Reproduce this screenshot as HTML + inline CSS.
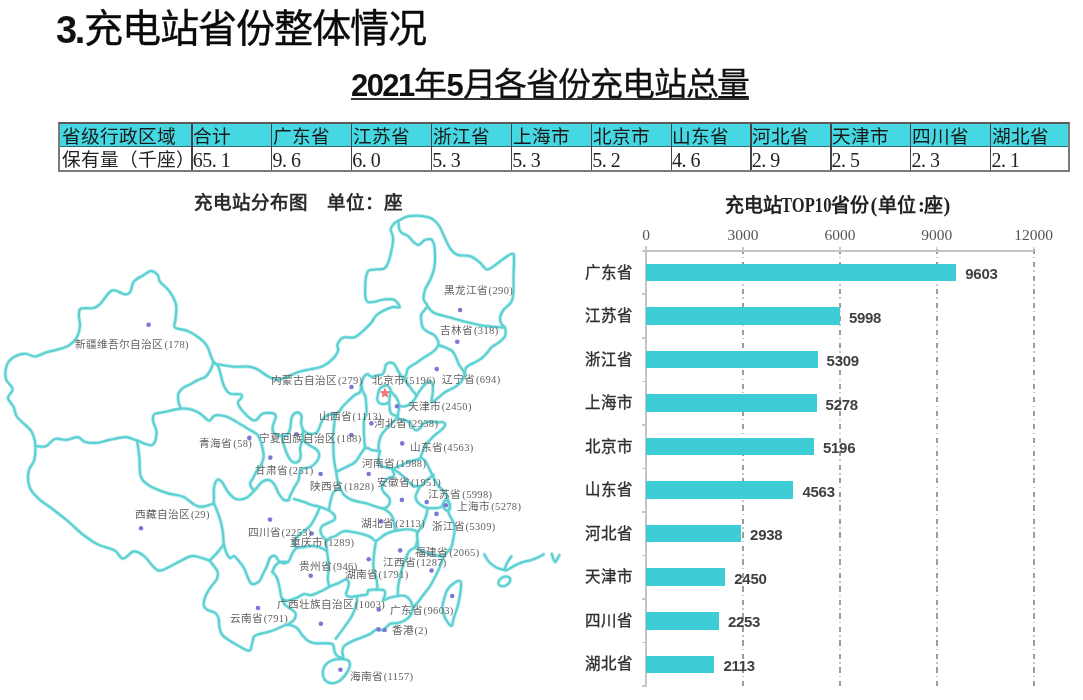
<!DOCTYPE html>
<html lang="zh-CN"><head><meta charset="utf-8"><style>
*{margin:0;padding:0;box-sizing:border-box}
html,body{width:1083px;height:700px;overflow:hidden;background:#fff}
body{position:relative;font-family:"Liberation Sans",sans-serif;color:#000;-webkit-font-smoothing:antialiased}
.abs{position:absolute;white-space:nowrap}
.t1d{font-weight:bold;font-size:38px;letter-spacing:-2.5px;line-height:50px;color:#111}
.t1c{font-weight:400;font-size:39.2px;letter-spacing:-0.9px;line-height:50px;color:#0a0a0a;-webkit-text-stroke:0.35px #0a0a0a}
.t2d{font-weight:bold;font-size:31px;line-height:40px;letter-spacing:-1.6px;color:#111}
.t2c{font-weight:normal;font-size:33px;letter-spacing:-1.14px;line-height:40px;color:#111;-webkit-text-stroke:0.3px #111}
#t2u{position:absolute;left:351px;top:97.5px;width:398px;height:2px;background:#333}
#tbl{position:absolute;left:58px;top:122px;width:1012px;height:50px;border:2px solid #7a7a7a;border-top-color:#5a5a5a;background:#fff}
#tbl .hd{position:absolute;left:0;top:0;width:1008px;height:23px;background:#45d8e2;border-bottom:1.5px solid #2f6f74}
#tbl .vl{position:absolute;top:0;width:1.5px;height:46px;background:#444}
.th,.td{position:absolute;font-family:"Liberation Serif",serif;font-size:18.7px;line-height:22px;white-space:nowrap;color:#1a1a1a}
.th{top:2px}
.td{top:25px;color:#222}
.td.num{font-size:20px;letter-spacing:-0.5px}
.td .dot{display:inline-block;width:9px}
#mt{position:absolute;left:193.5px;top:190.5px;font-family:"Liberation Serif",serif;font-weight:bold;font-size:18.5px;line-height:24px;color:#2b2b2b;white-space:nowrap}
svg{position:absolute;left:0;top:0}
.lb{position:absolute;font-family:"Liberation Serif",serif;font-size:10.7px;line-height:14px;color:#626262;white-space:nowrap}
.lb .n{letter-spacing:0.35px;font-size:10.5px;margin-left:1px}
.ct{position:absolute;top:193.5px;font-family:"Liberation Serif",serif;font-weight:bold;font-size:19px;line-height:24px;color:#222;white-space:nowrap}
.ct.lat{font-size:20.5px;top:192.5px}
.ct.sx{transform:scaleX(0.81);transform-origin:0 0}
.bar{position:absolute;background:#3ecdd6}
.cat{position:absolute;font-family:"Liberation Serif",serif;font-size:15.5px;line-height:18px;color:#303030;-webkit-text-stroke:0.35px #303030;white-space:nowrap}
.val{position:absolute;font-family:"Liberation Sans",sans-serif;font-weight:bold;font-size:15px;line-height:18px;letter-spacing:-0.3px;color:#404040;white-space:nowrap}
.ax{position:absolute;width:80px;text-align:center;font-family:"Liberation Serif",serif;font-size:15.5px;line-height:14px;color:#555}
.tk{position:absolute;background:#c8c8c8}
.grid{position:absolute;top:249.1px;width:1.5px;height:437.5px;background:repeating-linear-gradient(to bottom,#9c9c9c 0 5px,transparent 5px 8px,#c4c4c4 8px 9.5px,transparent 9.5px 13.5px)}
#yax{position:absolute;left:644.8px;top:246.3px;width:2px;height:440px;background:#c4c4c4}
#xax{position:absolute;left:641.5px;top:249.8px;width:392.5px;height:2px;background:#c4c4c4}
#root{position:absolute;left:0;top:0;width:1083px;height:700px;will-change:transform}
</style></head><body><div id="root">
<div class="abs t1d" style="left:56px;top:5px">3.</div>
<div class="abs t1c" style="left:83.5px;top:4px">充电站省份整体情况</div>
<div class="abs t2d" style="left:351px;top:65.5px">2021</div>
<div class="abs t2c" style="left:414px;top:64.5px">年</div>
<div class="abs t2d" style="left:446.5px;top:65.5px">5</div>
<div class="abs t2c" style="left:462.5px;top:64.5px">月各省份充电站总量</div>
<div id="t2u"></div>
<div id="tbl"><div class="hd"></div>
<div class="th" style="left:1.5px">省级行政区域</div>
<div class="td" style="left:1.5px">保有量（千座）</div>
<div class="th" style="left:133.2px">合计</div>
<div class="td num" style="left:132.8px">65<span class="dot">.</span>1</div>
<div class="th" style="left:212.8px">广东省</div>
<div class="td num" style="left:212.4px">9<span class="dot">.</span>6</div>
<div class="th" style="left:292.7px">江苏省</div>
<div class="td num" style="left:292.3px">6<span class="dot">.</span>0</div>
<div class="th" style="left:372.7px">浙江省</div>
<div class="td num" style="left:372.3px">5<span class="dot">.</span>3</div>
<div class="th" style="left:452.7px">上海市</div>
<div class="td num" style="left:452.3px">5<span class="dot">.</span>3</div>
<div class="th" style="left:532.6px">北京市</div>
<div class="td num" style="left:532.2px">5<span class="dot">.</span>2</div>
<div class="th" style="left:612.4px">山东省</div>
<div class="td num" style="left:612.0px">4<span class="dot">.</span>6</div>
<div class="th" style="left:692.1px">河北省</div>
<div class="td num" style="left:691.7px">2<span class="dot">.</span>9</div>
<div class="th" style="left:771.9px">天津市</div>
<div class="td num" style="left:771.5px">2<span class="dot">.</span>5</div>
<div class="th" style="left:851.8px">四川省</div>
<div class="td num" style="left:851.4px">2<span class="dot">.</span>3</div>
<div class="th" style="left:931.8px">湖北省</div>
<div class="td num" style="left:931.4px">2<span class="dot">.</span>1</div>
<div class="vl" style="left:131.2px"></div>
<div class="vl" style="left:210.9px"></div>
<div class="vl" style="left:290.8px"></div>
<div class="vl" style="left:370.8px"></div>
<div class="vl" style="left:450.8px"></div>
<div class="vl" style="left:530.6px"></div>
<div class="vl" style="left:610.5px"></div>
<div class="vl" style="left:690.1px"></div>
<div class="vl" style="left:770.0px"></div>
<div class="vl" style="left:849.9px"></div>
<div class="vl" style="left:929.9px"></div>
</div>
<div id="mt">充电站分布图　单位：座</div>
<svg width="1083" height="700" viewBox="0 0 1083 700">
<g fill="none" stroke="#bdeced" stroke-width="3.8" stroke-linejoin="round" stroke-linecap="round">
<path d="M209.6 560.6C206.8 559.8 197.8 555.9 192.9 556.0C188.0 556.1 185.2 558.8 180.0 561.2C174.8 563.6 166.3 569.1 162.0 570.2C157.7 571.3 157.3 570.0 154.3 567.6C151.3 565.2 147.4 558.7 144.0 556.0C140.6 553.3 137.3 551.0 133.8 551.4C130.3 551.8 126.2 558.8 123.0 558.6C119.8 558.4 118.7 552.8 114.5 550.4C110.3 548.0 103.1 547.1 97.7 544.4C92.3 541.7 87.2 537.9 82.3 534.1C77.4 530.3 73.5 525.9 68.6 521.7C63.6 517.5 57.5 512.9 52.6 509.1C47.7 505.3 42.7 502.5 38.9 498.9C35.1 495.3 31.4 492.0 29.7 487.4C28.0 482.8 27.8 476.0 28.6 471.4C29.4 466.8 33.2 464.2 34.3 460.0C35.4 455.8 35.5 450.0 35.4 446.0C35.3 442.0 34.5 438.8 33.5 436.0C32.5 433.2 32.4 432.3 29.7 429.1C27.0 425.9 19.8 420.7 17.1 417.0C14.4 413.3 15.2 410.2 13.7 407.0C12.2 403.8 8.2 401.0 8.0 398.0C7.8 395.0 12.9 392.2 12.6 389.0C12.3 385.8 7.0 383.0 6.0 379.0C5.0 375.0 5.6 368.6 6.9 365.0C8.2 361.4 10.7 359.0 13.7 357.1C16.7 355.2 21.5 353.8 25.1 353.7C28.7 353.6 32.0 356.7 35.4 356.5C38.8 356.3 41.7 353.8 45.7 352.6C49.7 351.4 55.6 350.2 59.4 349.1C63.2 348.0 65.7 347.6 68.6 345.7C71.5 343.8 74.7 340.9 76.6 337.7C78.5 334.5 79.6 330.1 80.0 326.3C80.4 322.5 78.7 317.9 78.9 314.9C79.1 311.9 78.6 309.6 81.1 308.5C83.6 307.4 90.5 308.9 93.7 308.0C97.0 307.1 97.5 306.3 100.6 303.4C103.6 300.5 108.0 291.9 112.0 290.4C116.0 288.9 121.5 294.0 124.6 294.3C127.6 294.6 128.8 294.1 130.3 292.0C131.8 289.9 131.4 284.6 133.7 281.7C136.0 278.8 141.1 276.7 144.0 274.9C146.9 273.1 148.6 271.0 150.9 271.0C153.2 271.0 156.2 273.1 157.7 274.9C159.2 276.7 158.1 279.0 160.0 281.7C161.9 284.4 166.4 287.1 169.1 290.9C171.8 294.7 174.9 299.9 176.0 304.6C177.1 309.4 175.7 315.6 175.5 319.4C175.3 323.2 172.9 325.5 174.9 327.4C176.9 329.3 183.4 329.2 187.4 330.9C191.4 332.6 195.7 335.2 198.9 337.7C202.2 340.2 204.5 341.6 206.9 345.7C209.3 349.8 211.4 358.9 213.5 362.0C215.6 365.1 216.0 363.7 219.4 364.5C222.8 365.3 229.1 366.3 234.0 366.7C238.9 367.1 245.0 366.1 248.9 366.6C252.8 367.1 254.8 368.0 257.7 369.5C260.6 371.0 263.9 373.9 266.6 375.5C269.3 377.1 271.5 378.5 274.0 379.1C276.5 379.7 278.9 379.6 281.4 379.1C283.9 378.6 285.9 377.4 288.8 376.2C291.8 375.0 295.7 372.9 299.1 371.8C302.5 370.7 305.9 370.2 309.4 369.5C312.8 368.8 316.8 368.3 319.8 367.3C322.8 366.3 324.8 365.3 327.2 363.6C329.6 361.9 332.7 359.2 334.5 357.0C336.3 354.8 337.7 352.4 338.2 350.3C338.7 348.2 336.6 346.5 337.5 344.4C338.4 342.3 340.3 338.8 343.3 337.5C346.3 336.2 351.1 339.0 355.5 336.8C359.9 334.6 366.4 327.9 370.0 324.2C373.6 320.5 373.7 317.3 377.3 314.5C380.9 311.7 388.2 308.4 391.9 307.2C395.6 306.0 399.3 308.4 399.7 307.2C400.1 306.0 396.8 301.2 394.3 299.9C391.8 298.6 389.1 299.1 384.6 299.4C380.2 299.7 370.8 303.8 367.6 301.8C364.4 299.9 365.2 292.7 365.2 287.7C365.2 282.7 366.0 274.9 367.6 271.9C369.2 268.9 372.1 270.1 374.9 269.5C377.7 268.9 382.2 270.1 384.6 268.3C387.0 266.5 388.1 263.5 389.5 258.6C390.9 253.7 392.9 244.0 393.1 239.1C393.3 234.2 390.5 232.0 390.7 229.4C390.9 226.8 393.1 224.8 394.3 223.4C395.6 222.0 395.7 222.1 398.2 220.9C400.7 219.7 404.0 216.7 409.1 216.1C414.2 215.5 423.7 215.9 428.6 217.3C433.5 218.7 435.7 221.4 438.3 224.6C440.9 227.8 442.3 232.7 444.3 236.7C446.3 240.7 448.2 245.8 450.4 248.8C452.6 251.8 454.5 253.7 457.7 254.9C460.9 256.1 466.2 254.9 469.8 256.1C473.4 257.3 476.7 260.0 479.5 262.2C482.3 264.4 484.4 268.9 486.8 269.5C489.2 270.1 491.3 267.6 494.1 265.8C496.9 264.0 500.8 260.6 503.8 258.6C506.8 256.6 510.6 253.7 512.3 253.7C514.0 253.7 513.8 254.6 514.0 258.6C514.2 262.7 513.6 272.4 513.5 278.0C513.4 283.6 513.9 288.4 513.5 292.5C513.1 296.6 512.7 299.5 511.1 302.3C509.5 305.1 505.6 307.1 503.8 309.5C502.0 311.9 500.6 314.4 500.2 316.8C499.8 319.2 500.6 322.3 501.4 324.1C502.2 325.9 504.4 325.7 505.0 327.7C505.6 329.7 506.0 333.8 505.0 336.2C504.0 338.6 501.2 340.5 499.0 342.3C496.8 344.1 493.7 345.4 491.7 347.2C489.7 349.0 488.4 351.4 486.8 353.2C485.2 355.0 483.9 356.6 481.9 358.1C479.9 359.6 476.9 361.2 475.0 362.3C473.1 363.4 471.9 363.7 470.4 364.6C468.9 365.6 466.8 366.3 465.9 368.0C464.9 369.7 465.5 372.6 464.7 374.9C463.9 377.2 463.0 379.6 461.3 381.7C459.6 383.8 457.1 385.7 454.4 387.4C451.7 389.1 448.0 390.3 445.3 392.0C442.6 393.7 440.6 396.0 438.4 397.7C436.2 399.4 433.1 401.9 432.0 402.3C430.9 402.7 431.5 401.5 431.6 400.0C431.7 398.5 432.5 395.6 432.7 393.1C432.9 390.6 433.1 387.0 432.7 385.1C432.3 383.2 431.5 382.0 430.4 381.7C429.3 381.4 427.4 382.2 425.9 383.4C424.4 384.5 422.8 386.6 421.3 388.6C419.8 390.6 417.8 393.6 416.7 395.4C415.6 397.2 415.7 398.0 414.6 399.4C413.5 400.8 411.6 402.7 410.0 403.9C408.4 405.1 406.4 406.0 404.7 406.4C403.0 406.8 400.6 405.7 399.6 406.4C398.6 407.1 399.0 409.4 398.7 410.7C398.4 412.0 398.0 412.9 398.0 414.3C398.0 415.7 397.6 417.9 398.6 418.9C399.7 419.8 402.4 419.4 404.3 420.0C406.2 420.6 408.7 421.2 410.0 422.3C411.3 423.4 411.4 425.6 412.3 426.9C413.2 428.2 414.4 430.1 415.7 430.3C417.0 430.5 419.0 429.1 420.3 428.0C421.6 426.9 422.2 424.4 423.7 423.4C425.2 422.3 427.3 421.9 429.4 421.7C431.5 421.5 434.0 422.2 436.3 422.3C438.6 422.4 441.7 421.7 443.1 422.3C444.5 422.9 445.3 424.4 444.9 425.7C444.5 427.0 442.5 428.8 440.9 430.3C439.3 431.8 437.0 433.2 435.1 434.9C433.2 436.6 431.1 438.7 429.4 440.6C427.7 442.5 426.0 444.4 424.9 446.3C423.8 448.2 423.2 450.2 422.6 452.0C422.0 453.8 420.6 455.6 421.0 457.0C421.4 458.4 423.8 458.9 425.1 460.6C426.4 462.3 427.5 465.1 428.6 467.4C429.8 469.7 430.9 472.0 432.0 474.3C433.1 476.6 434.2 479.1 435.4 481.1C436.5 483.1 437.5 484.6 438.9 486.3C440.3 488.0 442.6 489.8 444.0 491.4C445.4 493.0 446.3 494.6 447.0 496.1C447.7 497.7 447.7 499.6 448.1 500.7C448.5 501.8 449.0 501.9 449.3 503.0C449.6 504.1 450.1 506.3 449.9 507.6C449.7 508.9 448.0 509.5 448.1 511.0C448.2 512.5 449.4 514.6 450.4 516.7C451.4 518.8 453.2 521.2 453.9 523.6C454.6 526.0 454.6 528.3 454.5 531.0C454.4 533.7 453.6 537.1 453.1 539.8C452.6 542.5 452.4 545.0 451.3 547.2C450.2 549.4 447.8 551.2 446.6 552.8C445.4 554.3 444.8 554.6 443.9 556.5C443.0 558.4 442.0 561.6 441.0 564.0C440.0 566.4 439.2 568.5 438.0 571.0C436.8 573.5 435.4 576.3 434.0 579.0C432.6 581.7 431.2 584.5 429.5 587.0C427.8 589.5 425.9 591.6 424.0 594.0C422.1 596.4 420.3 599.2 418.4 601.6C416.5 604.0 414.0 605.9 412.8 608.1C411.6 610.3 412.2 612.6 411.0 614.6C409.8 616.6 407.6 618.7 405.4 620.1C403.2 621.5 400.5 622.3 398.0 622.9C395.5 623.5 392.5 623.0 390.5 623.8C388.5 624.6 387.1 626.4 385.9 627.5C384.7 628.6 384.7 630.0 383.1 630.3C381.6 630.6 378.8 628.8 376.6 629.4C374.4 630.0 372.7 632.6 370.1 634.0C367.5 635.4 363.9 636.5 360.8 637.8C357.7 639.0 354.4 640.1 351.6 641.5C348.8 642.9 345.7 644.4 344.1 646.1C342.6 647.8 342.5 649.9 342.3 651.7C342.1 653.6 344.0 656.4 343.2 657.2C342.4 658.0 339.0 657.2 337.6 656.3C336.2 655.4 335.4 653.7 334.6 651.7C333.8 649.7 334.2 645.7 332.8 644.3C331.4 642.9 329.2 643.5 326.3 643.3C323.4 643.1 318.2 643.8 315.1 643.3C312.0 642.8 309.9 642.0 307.7 640.6C305.5 639.2 304.0 637.2 302.1 635.0C300.2 632.8 299.0 629.3 296.5 627.6C294.0 625.9 290.1 624.8 287.3 624.8C284.5 624.8 282.6 626.5 279.8 627.6C277.0 628.7 274.0 630.2 270.6 631.3C267.2 632.4 262.2 633.2 259.4 634.1C256.6 635.0 255.0 635.1 253.8 636.8C252.6 638.5 252.8 642.0 252.0 644.3C251.2 646.6 251.4 650.5 249.2 650.8C247.0 651.1 242.2 647.8 239.0 646.1C235.8 644.4 232.5 642.5 229.7 640.6C226.9 638.8 224.0 637.2 222.3 635.0C220.6 632.8 220.1 630.4 219.5 627.6C218.9 624.8 219.4 620.8 218.6 618.3C217.8 615.8 216.8 614.1 214.9 612.7C213.0 611.3 209.3 611.1 207.4 609.9C205.5 608.7 204.0 607.6 203.7 605.3C203.4 603.0 204.4 599.1 205.6 596.0C206.8 592.9 209.2 589.5 211.1 586.7C212.9 583.9 215.6 581.8 216.7 579.3C217.8 576.8 218.6 574.5 217.4 571.4C216.2 568.3 210.9 562.4 209.6 560.6"/>
<path d="M35.4 446.0C37.1 446.1 42.5 447.5 45.7 446.3C49.0 445.1 51.5 440.1 54.9 439.0C58.3 437.9 62.5 440.2 66.3 439.9C70.1 439.6 74.7 436.8 77.7 437.1C80.8 437.4 81.5 440.7 84.6 441.7C87.6 442.7 91.8 443.2 96.0 442.9C100.2 442.6 104.8 440.9 109.7 439.9C114.7 438.9 121.1 437.0 125.7 437.1C130.3 437.2 132.7 439.3 137.1 440.6C141.5 441.9 148.8 446.4 152.0 445.1C155.2 443.8 156.4 436.6 156.6 432.6C156.8 428.6 153.5 424.2 153.1 421.1C152.7 418.1 152.4 415.8 154.3 414.3C156.2 412.8 160.2 412.9 164.6 412.0C169.0 411.1 176.0 409.0 180.6 408.6C185.2 408.2 188.6 408.8 192.0 409.7C195.4 410.6 198.2 412.5 201.1 414.3C203.9 416.1 206.8 420.5 209.1 420.7C211.4 420.9 212.0 416.1 214.9 415.4C217.8 414.7 222.8 415.6 226.3 416.6C229.8 417.6 232.9 419.9 235.7 421.4C238.5 422.9 240.5 424.3 242.9 425.7C245.3 427.1 247.6 428.6 250.0 430.0C252.4 431.4 255.3 432.4 257.1 434.3C258.9 436.2 259.7 438.8 260.7 441.4C261.7 444.0 262.4 447.4 262.9 450.0C263.4 452.6 264.0 454.5 263.6 457.1C263.2 459.7 261.9 463.3 260.7 465.7C259.5 468.1 257.7 469.2 256.4 471.4C255.1 473.5 254.0 476.5 252.9 478.6C251.8 480.7 249.8 481.9 250.0 484.0C250.2 486.1 253.3 489.8 254.0 491.0"/>
<path d="M180.6 408.6C180.2 407.3 178.7 403.1 178.3 400.6C177.9 398.1 177.5 395.8 178.3 393.7C179.1 391.6 181.1 389.5 183.0 388.0C184.9 386.5 187.2 385.9 189.7 384.6C192.2 383.3 195.3 381.3 198.0 380.0C200.7 378.7 203.5 378.4 205.7 376.6C207.9 374.8 209.7 371.4 211.0 369.0C212.3 366.6 213.1 363.2 213.5 362.0"/>
<path d="M213.5 362.0C214.2 362.7 216.9 364.3 218.0 366.0C219.1 367.7 219.0 368.7 220.0 372.0C221.0 375.3 222.3 382.4 224.0 386.0C225.7 389.6 227.2 392.2 230.0 393.6C232.8 395.0 238.8 393.6 240.7 394.3C242.6 395.0 241.9 396.5 241.4 397.9C240.9 399.3 237.7 400.6 237.9 402.9C238.2 405.1 240.7 408.7 242.9 411.4C245.2 414.1 249.2 417.9 251.4 419.3C253.7 420.7 254.7 420.8 256.4 420.0C258.1 419.2 259.6 415.5 261.4 414.3C263.2 413.1 265.0 413.0 267.1 412.9C269.2 412.8 272.9 412.9 274.3 413.6C275.7 414.3 275.9 415.1 275.7 417.1C275.5 419.1 273.4 423.3 272.9 425.7C272.4 428.1 272.2 429.8 272.9 431.4C273.6 432.9 275.6 434.3 277.1 435.0C278.6 435.7 280.4 435.7 282.1 435.7C283.8 435.7 285.8 436.1 287.1 435.0C288.4 433.9 289.2 432.2 290.0 429.3C290.8 426.4 290.8 420.0 291.7 417.3C292.6 414.6 293.8 413.7 295.1 413.0C296.4 412.3 298.3 412.4 299.4 413.0C300.5 413.6 301.3 414.7 301.6 416.4C301.9 418.1 300.9 421.1 301.1 423.3C301.3 425.5 302.0 427.7 302.9 429.3C303.8 430.9 304.9 431.9 306.3 432.7C307.7 433.5 309.7 434.0 311.4 434.0C313.1 434.0 315.3 433.6 316.6 432.7C317.9 431.8 318.2 430.2 319.1 428.4C320.0 426.5 320.8 423.5 321.7 421.6C322.6 419.8 323.1 418.5 324.3 417.3C325.5 416.1 326.9 415.4 328.6 414.7C330.3 414.0 332.9 413.9 334.6 413.4C336.3 412.9 337.5 412.9 338.9 411.7C340.3 410.5 341.2 408.2 343.1 406.1C345.0 404.0 348.0 401.2 350.0 399.3C352.0 397.4 353.5 395.9 355.2 394.7C356.9 393.5 359.1 393.5 360.1 391.9C361.1 390.3 360.8 387.4 361.4 385.0C362.0 382.6 362.7 379.1 363.6 377.3C364.5 375.5 366.0 374.6 367.0 374.3C368.0 374.0 368.8 375.2 369.6 375.6C370.5 376.0 371.0 376.9 372.1 376.9C373.2 376.9 374.7 376.0 376.4 375.6C378.1 375.2 381.0 375.2 382.4 374.3C383.8 373.4 384.0 371.6 384.6 370.0C385.2 368.4 385.1 366.1 385.9 364.9C386.7 363.7 388.0 362.9 389.3 362.7C390.6 362.5 392.5 362.9 393.6 363.6C394.7 364.3 395.2 365.6 396.1 367.0C397.0 368.4 397.4 370.0 398.7 372.1C400.0 374.2 403.2 378.2 404.1 379.4"/>
<path d="M404.1 379.4C404.5 378.4 405.8 375.4 406.4 373.7C407.0 372.0 407.0 370.2 407.6 369.1C408.2 368.0 408.6 367.8 409.9 366.9C411.2 365.9 413.3 364.9 415.6 363.4C417.9 361.9 420.8 359.6 423.6 357.7C426.5 355.8 430.2 354.1 432.7 352.0C435.2 349.9 437.6 347.2 438.4 345.1C439.2 343.0 438.1 341.1 437.3 339.4C436.6 337.7 435.6 336.2 433.9 334.9C432.2 333.6 428.9 332.7 427.0 331.4C425.1 330.1 423.3 328.8 422.4 326.9C421.4 325.0 421.5 322.1 421.3 320.0C421.1 317.9 420.3 316.8 421.3 314.4C422.3 312.0 426.9 308.3 427.3 305.9C427.7 303.5 424.1 302.4 423.7 299.8C423.3 297.2 423.7 293.7 424.9 290.1C426.1 286.5 429.4 282.1 431.0 278.0C432.6 273.9 434.0 270.9 434.6 265.8C435.2 260.7 435.0 251.9 434.6 247.6C434.2 243.3 433.1 241.4 432.0 240.0C430.9 238.6 429.3 239.1 428.0 239.2C426.7 239.3 425.6 239.5 424.0 240.5C422.4 241.5 420.2 244.8 418.5 245.0C416.8 245.2 415.2 243.5 413.5 242.0C411.8 240.5 409.9 237.5 408.0 236.0C406.1 234.5 403.4 234.1 402.0 233.0C400.6 231.9 400.0 231.4 399.4 229.4C398.8 227.4 398.4 222.3 398.2 220.9"/>
<path d="M404.1 379.4C404.8 380.2 406.9 382.5 408.1 384.1C409.4 385.8 410.2 387.4 411.6 389.3C413.0 391.2 415.9 394.4 416.7 395.4"/>
<path d="M438.4 345.1C439.5 345.5 443.0 346.4 445.3 347.4C447.6 348.4 450.4 349.4 452.1 350.9C453.8 352.4 454.5 354.3 455.6 356.6C456.8 358.9 457.7 362.1 459.0 364.6C460.3 367.1 462.7 369.7 463.6 371.4C464.6 373.1 464.5 374.3 464.7 374.9"/>
<path d="M427.3 305.9C428.3 307.0 429.9 310.6 433.4 312.5C436.8 314.4 442.3 315.4 448.0 317.0C453.7 318.6 461.7 320.9 467.4 322.3C473.1 323.7 477.1 324.8 482.0 325.6C486.9 326.4 492.7 326.6 496.5 327.0C500.3 327.4 503.6 327.6 505.0 327.7"/>
<path d="M390.6 391.0C391.2 391.7 393.3 394.0 394.4 395.3C395.5 396.6 396.3 397.4 397.0 398.7C397.7 400.0 398.3 401.7 398.7 403.0C399.1 404.3 399.5 405.8 399.6 406.4"/>
<path d="M389.3 403.0C389.4 403.9 389.4 406.4 389.7 408.1C390.0 409.8 389.6 411.9 391.0 413.3C392.4 414.7 396.8 416.1 398.0 416.6"/>
<path d="M398.0 416.6C397.1 417.6 394.7 420.4 392.9 422.3C391.1 424.2 389.0 425.9 387.1 428.0C385.2 430.1 382.7 432.6 381.4 434.9C380.1 437.2 379.6 439.4 379.1 441.7C378.6 444.0 378.5 447.0 378.6 448.6C378.7 450.2 379.6 450.8 379.8 451.2"/>
<path d="M361.4 385.0C361.6 386.0 362.0 389.1 362.7 391.0C363.4 392.9 364.7 394.1 365.3 396.1C365.9 398.1 365.9 400.7 366.1 403.0C366.3 405.3 366.6 407.9 366.6 409.9C366.6 411.9 366.5 413.2 366.1 415.0C365.7 416.8 364.4 417.4 364.0 420.5C363.6 423.6 363.8 428.9 364.0 433.5C364.2 438.1 364.8 445.9 365.0 448.4"/>
<path d="M334.6 413.4C334.6 414.6 334.8 418.0 334.6 420.7C334.5 423.4 334.0 426.4 333.7 429.3C333.4 432.2 333.0 435.0 332.9 437.9C332.8 440.8 333.2 443.5 333.3 446.4C333.4 449.2 333.5 452.4 333.7 455.0C333.9 457.6 333.9 459.2 334.3 462.0C334.7 464.8 335.7 468.8 336.2 471.6C336.7 474.4 336.5 475.9 337.1 478.6C337.7 481.3 339.4 486.3 339.9 487.8"/>
<path d="M336.2 471.6C337.9 470.8 343.1 468.7 346.4 467.0C349.6 465.3 352.6 464.5 355.7 461.4C358.8 458.3 362.2 450.3 365.0 448.4C367.8 446.5 369.9 449.7 372.4 450.2C374.9 450.7 378.6 451.0 379.8 451.2"/>
<path d="M379.8 451.2C379.6 453.0 378.0 459.4 378.4 461.9C378.8 464.4 380.4 465.4 381.9 466.4C383.4 467.3 385.9 467.2 387.6 467.6C389.3 468.0 390.8 468.7 392.1 468.7C393.4 468.7 394.1 468.2 395.6 467.6C397.1 467.0 399.2 466.2 401.3 465.3C403.4 464.4 405.8 462.8 408.1 461.9C410.4 461.0 413.0 460.7 415.0 460.1C417.0 459.5 419.1 458.9 420.1 458.4C421.1 457.9 420.9 457.2 421.0 457.0"/>
<path d="M392.1 468.7C392.4 469.5 393.7 472.0 393.9 473.3C394.1 474.6 394.2 475.9 393.3 476.7C392.4 477.5 390.2 476.9 388.7 477.9C387.2 478.8 385.2 480.7 384.1 482.4C383.0 484.1 381.9 486.4 381.9 488.1C381.9 489.8 383.0 491.2 384.1 492.7C385.2 494.2 387.7 495.8 388.7 497.3C389.7 498.8 390.1 500.4 389.9 501.9C389.7 503.4 388.6 505.3 387.6 506.4C386.6 507.5 384.7 508.3 384.1 508.7"/>
<path d="M393.3 469.0C394.1 469.5 396.2 470.8 397.9 472.1C399.6 473.4 401.7 475.0 403.6 476.7C405.5 478.4 407.6 480.9 409.3 482.4C411.0 483.9 412.0 485.3 413.9 485.9C415.8 486.5 418.5 486.9 420.7 485.9C422.9 484.9 424.9 481.9 427.0 480.0C429.1 478.1 432.5 475.7 433.6 474.8"/>
<path d="M420.7 485.9C420.1 486.8 418.1 489.7 417.3 491.6C416.5 493.5 415.4 495.4 415.6 497.3C415.8 499.2 417.0 501.4 418.4 503.0C419.8 504.6 422.4 506.1 424.1 507.0C425.8 507.9 426.8 507.9 428.7 508.1C430.6 508.3 433.5 508.3 435.6 508.1C437.7 507.9 440.0 507.9 441.3 507.0C442.6 506.1 443.2 503.7 443.6 503.0"/>
<path d="M339.9 487.8C340.7 489.1 342.5 493.3 344.5 495.3C346.5 497.3 348.3 498.5 352.0 499.9C355.7 501.3 362.5 502.4 366.8 503.6C371.1 504.8 375.1 506.5 378.0 507.3C380.9 508.1 383.1 508.5 384.1 508.7"/>
<path d="M384.1 508.7C385.1 509.5 388.4 511.6 389.9 513.3C391.4 515.0 392.6 516.9 393.3 519.0C394.1 521.1 394.0 524.0 394.4 525.9C394.8 527.8 395.0 529.6 395.6 530.4C396.2 531.1 396.2 530.6 397.9 530.4C399.6 530.2 403.0 529.3 405.9 529.3C408.8 529.3 413.1 529.8 415.0 530.4C416.9 531.0 416.9 532.6 417.3 533.0"/>
<path d="M427.6 508.7C427.4 509.6 427.0 512.3 426.4 514.4C425.8 516.5 425.1 519.0 424.1 521.3C423.2 523.6 421.8 526.1 420.7 528.1C419.6 530.1 417.8 531.0 417.3 533.0C416.8 535.0 417.2 537.3 417.5 540.0C417.8 542.7 417.4 547.0 418.8 549.1C420.2 551.2 423.1 551.7 426.2 552.8C429.3 553.9 434.4 555.0 437.4 555.6C440.3 556.2 442.8 556.4 443.9 556.5"/>
<path d="M417.5 540.0C417.1 541.2 416.4 545.4 415.1 547.2C413.8 549.0 411.2 548.8 409.5 551.0C407.8 553.2 406.3 556.8 404.9 560.2C403.5 563.6 402.1 568.0 401.2 571.4C400.3 574.8 399.8 577.8 399.3 580.6C398.8 583.4 398.2 585.4 398.0 588.0C397.8 590.6 398.0 594.7 398.0 596.0"/>
<path d="M395.6 530.4C393.9 531.0 388.6 532.5 385.4 534.2C382.1 535.9 378.6 540.2 376.1 540.7C373.6 541.2 372.7 538.1 370.5 537.0C368.3 535.9 366.5 535.1 363.1 534.2C359.7 533.3 353.5 532.0 350.1 531.5C346.7 531.0 345.2 530.7 342.7 531.5C340.2 532.3 337.5 535.0 335.3 536.1C333.1 537.2 331.2 536.9 329.7 538.0C328.1 539.1 326.6 541.8 326.0 542.6"/>
<path d="M376.1 540.7C375.8 542.7 374.7 548.6 374.2 552.8C373.7 557.0 373.1 562.1 373.3 565.8C373.5 569.5 374.9 572.6 375.5 575.0C376.1 577.4 376.3 577.7 376.6 580.0C376.9 582.3 377.6 587.0 377.5 588.6C377.4 590.2 376.0 589.4 375.7 589.5"/>
<path d="M383.1 600.6C384.2 600.1 387.1 598.6 389.6 597.8C392.1 597.0 395.4 596.3 398.0 596.0C400.6 595.7 403.2 595.1 405.4 596.0C407.6 596.9 409.8 599.6 411.0 601.6C412.2 603.6 412.5 607.0 412.8 608.1"/>
<path d="M272.4 571.9C273.2 572.9 275.8 575.2 277.0 578.0C278.2 580.8 279.0 585.3 279.8 588.6C280.6 591.9 280.4 595.9 281.7 597.9C282.9 599.9 284.8 600.6 287.3 600.6C289.8 600.6 293.7 599.0 296.5 597.9C299.3 596.8 301.5 594.6 304.0 594.1C306.5 593.6 308.6 595.6 311.4 595.1C314.2 594.6 317.7 592.8 320.7 591.4C323.7 590.0 326.3 588.1 329.3 586.7C332.3 585.3 335.8 584.2 338.6 583.0C341.4 581.8 344.3 579.3 346.0 579.3C347.7 579.3 348.5 581.5 348.8 583.0C349.1 584.5 348.3 586.8 347.8 588.6C347.3 590.5 345.7 592.7 346.0 594.1C346.3 595.5 347.8 596.6 349.7 596.9C351.6 597.2 354.8 596.3 357.1 596.0C359.4 595.7 361.9 595.4 363.6 595.1C365.3 594.8 366.5 594.9 367.3 594.1C368.1 593.3 366.9 591.2 368.3 590.4C369.7 589.6 373.1 589.5 375.7 589.5C378.3 589.5 382.4 589.6 384.0 590.4C385.6 591.2 385.1 592.4 385.0 594.1C384.9 595.8 383.4 599.5 383.1 600.6"/>
<path d="M357.1 596.0C357.0 597.5 357.1 601.9 356.2 605.3C355.3 608.7 353.6 612.7 351.6 616.4C349.6 620.1 346.7 623.8 344.1 627.5C341.5 631.2 337.2 636.8 335.8 638.7"/>
<path d="M281.7 597.9C282.2 599.0 282.9 602.4 284.5 604.3C286.1 606.1 289.1 607.5 291.0 609.0C292.9 610.5 295.1 611.8 295.6 613.6C296.1 615.5 295.2 618.2 293.8 620.1C292.4 622.0 288.4 624.0 287.3 624.8"/>
<path d="M223.8 544.4C224.2 545.7 225.0 549.7 226.0 552.0C227.0 554.3 228.7 557.3 230.0 558.0C231.3 558.7 232.7 555.7 234.0 556.0C235.3 556.3 236.3 558.0 238.0 560.0C239.7 562.0 242.3 565.0 244.0 568.0C245.7 571.0 246.7 575.3 248.0 578.0C249.3 580.7 250.1 583.5 252.0 584.0C253.9 584.5 257.5 582.8 259.4 581.1C261.2 579.4 261.8 576.2 263.1 573.7C264.4 571.2 265.9 568.6 267.0 566.0C268.1 563.4 268.7 559.7 270.0 558.0C271.3 556.3 273.3 555.3 275.0 556.0C276.7 556.7 277.8 561.0 280.0 562.0C282.2 563.0 286.0 563.3 288.0 562.0C290.0 560.7 290.7 556.3 292.0 554.0C293.3 551.7 295.3 549.0 296.0 548.0"/>
<path d="M288.0 562.0C286.7 562.0 282.2 561.3 280.0 562.0C277.8 562.7 276.3 564.4 275.0 566.0C273.7 567.6 272.8 570.9 272.4 571.9"/>
<path d="M209.6 560.6C210.8 559.3 214.6 555.7 217.0 553.0C219.4 550.3 222.7 545.8 223.8 544.4"/>
<path d="M223.8 544.4C223.6 542.0 223.2 534.5 222.5 530.0C221.8 525.5 220.9 521.7 219.4 517.1C217.9 512.5 214.6 504.8 213.7 502.3"/>
<path d="M137.1 440.6C137.5 443.5 138.8 451.8 139.4 457.7C140.0 463.6 139.1 471.4 140.6 476.0C142.1 480.6 144.2 482.2 148.6 485.1C153.0 488.0 161.2 491.2 166.9 493.1C172.6 495.0 178.3 494.7 182.9 496.6C187.5 498.5 191.3 502.9 194.3 504.6C197.3 506.3 198.4 506.9 201.1 506.9C203.8 506.9 208.2 505.4 210.3 504.6C212.4 503.8 213.1 505.1 213.7 502.3C214.3 499.5 213.4 491.7 214.0 488.0C214.6 484.3 215.7 481.0 217.0 480.0C218.3 479.0 220.2 480.0 222.0 482.0C223.8 484.0 225.7 489.2 228.0 492.0C230.3 494.8 233.0 498.0 236.0 499.0C239.0 500.0 243.0 499.3 246.0 498.0C249.0 496.7 251.3 493.7 254.0 491.0C256.7 488.3 259.5 483.8 262.0 482.0C264.5 480.2 267.0 479.7 269.0 480.0C271.0 480.3 272.3 481.7 274.0 484.0C275.7 486.3 277.3 491.3 279.0 494.0C280.7 496.7 282.3 499.0 284.0 500.0C285.7 501.0 288.2 500.0 289.0 500.0"/>
<path d="M294.0 499.0C295.7 499.5 301.0 501.0 304.0 502.0C307.0 503.0 309.3 504.2 312.0 505.0C314.7 505.8 317.2 506.1 320.0 507.0C322.8 507.9 327.3 509.6 328.8 510.1"/>
<path d="M302.9 440.0C304.1 440.9 307.6 444.0 310.0 445.7C312.4 447.4 315.6 448.3 317.1 450.0C318.7 451.7 319.5 453.6 319.3 455.7C319.1 457.8 317.2 461.0 315.7 462.9C314.1 464.8 312.1 466.2 310.0 467.1C307.9 468.1 304.6 467.9 302.9 468.6C301.2 469.3 300.7 469.5 300.0 471.4C299.3 473.3 299.6 477.2 298.6 480.0C297.6 482.8 295.4 485.3 294.0 488.0C292.6 490.7 290.8 494.0 290.0 496.0C289.2 498.0 289.2 499.3 289.0 500.0"/>
<path d="M282.1 435.7C282.2 436.6 282.4 439.2 282.9 441.4C283.4 443.5 284.1 446.0 285.0 448.6C285.9 451.2 287.3 454.9 288.6 457.1C289.9 459.4 291.2 461.4 292.9 462.1C294.6 462.8 297.3 462.5 298.6 461.4C299.9 460.3 300.5 457.8 300.7 455.7C300.9 453.6 299.9 450.7 300.0 448.6C300.1 446.5 300.9 444.3 301.4 442.9C301.9 441.5 302.6 442.3 302.9 440.0C303.1 437.7 302.9 431.1 302.9 429.3"/>
<path d="M339.9 487.8C338.8 488.6 334.9 490.3 333.4 492.5C331.8 494.7 331.4 497.9 330.6 500.8C329.8 503.7 329.1 508.6 328.8 510.1"/>
<path d="M320.0 507.0C319.3 508.5 317.7 512.8 316.0 516.0C314.3 519.2 312.7 523.0 310.0 526.0C307.3 529.0 302.7 531.5 300.0 534.0C297.3 536.5 294.7 538.7 294.0 541.0C293.3 543.3 295.7 546.8 296.0 548.0"/>
<path d="M328.8 510.1C329.7 510.9 333.4 513.4 334.3 515.0C335.2 516.6 335.1 518.7 334.0 520.0C332.9 521.3 329.9 522.0 328.0 523.0C326.1 524.0 323.6 524.7 322.3 526.0C321.0 527.3 320.4 529.3 320.4 531.0C320.4 532.7 321.4 534.5 322.3 536.0C323.2 537.5 325.4 538.9 326.0 540.0C326.6 541.1 326.0 542.2 326.0 542.6"/>
<path d="M296.0 548.0C297.3 547.8 301.3 547.3 304.0 547.0C306.7 546.7 309.3 545.9 312.0 546.0C314.7 546.1 317.5 546.7 320.0 547.5C322.5 548.3 325.8 550.4 326.9 551.0"/>
<path d="M326.0 542.6C326.1 544.0 326.4 547.1 326.9 551.0C327.4 554.9 328.6 561.2 328.8 565.8C329.0 570.4 327.7 575.3 327.8 578.8C327.9 582.3 329.1 585.4 329.3 586.7"/>
<path d="M484.3 554.3C485.0 555.5 486.7 559.3 488.6 561.4C490.5 563.5 493.1 565.7 495.7 567.1C498.3 568.5 502.4 569.5 504.3 570.0C506.2 570.5 505.4 570.7 507.1 570.0C508.8 569.3 511.7 567.0 514.3 565.7C516.9 564.4 520.0 563.1 522.9 562.1C525.8 561.1 528.8 560.8 531.4 560.0C534.0 559.2 536.6 558.1 538.6 557.1C540.6 556.1 542.8 554.8 543.6 554.3"/>
<path d="M504.8 569.0C505.2 568.0 506.0 565.0 507.1 562.9C508.2 560.8 510.7 557.5 511.4 556.4"/>
<path d="M551.8 553.9C552.1 554.8 552.8 557.6 553.4 559.0C554.0 560.4 554.7 562.1 555.4 562.0C556.1 561.9 556.8 559.6 557.5 558.5C558.2 557.4 559.1 555.7 559.4 555.1"/>
<path d="M379.9 388.4C380.9 387.1 382.8 386.3 384.1 385.9C385.5 385.5 387.0 385.5 388.0 385.9C389.0 386.3 389.7 387.5 390.1 388.4C390.5 389.2 390.7 389.7 390.6 391.0C390.5 392.3 390.0 394.2 389.7 396.1C389.4 398.0 389.7 400.8 388.9 402.1C388.1 403.4 386.5 403.7 385.0 403.9C383.5 404.1 381.2 404.1 379.9 403.4C378.6 402.7 377.6 401.2 377.3 399.6C377.0 398.0 377.7 395.5 378.1 393.6C378.5 391.7 378.9 389.7 379.9 388.4Z"/>
<path d="M443.6 503.0C443.8 501.9 444.1 501.1 444.7 500.7C445.3 500.3 446.2 500.3 447.0 500.7C447.8 501.1 448.8 501.9 449.3 503.0C449.8 504.1 450.1 506.3 449.9 507.6C449.7 508.9 448.8 510.6 448.1 511.0C447.4 511.4 446.6 510.5 445.9 509.9C445.1 509.3 444.0 508.8 443.6 507.6C443.2 506.5 443.4 504.1 443.6 503.0Z"/>
<path d="M343.2 659.1C345.8 659.3 347.7 659.8 348.8 661.0C349.9 662.2 350.2 664.3 349.7 666.5C349.2 668.7 347.9 671.5 346.0 674.0C344.1 676.5 341.1 679.9 338.6 681.4C336.1 682.9 333.4 683.5 331.1 683.2C328.8 682.9 326.0 681.4 324.6 679.5C323.2 677.6 322.6 674.6 322.8 672.1C323.0 669.6 323.9 666.7 325.6 664.7C327.3 662.7 330.1 660.9 333.0 660.0C335.9 659.1 340.6 658.9 343.2 659.1Z"/>
<path d="M448.1 588.6C450.0 586.0 453.5 583.4 455.5 582.1C457.5 580.9 459.3 580.6 460.2 581.1C461.1 581.6 461.1 582.7 461.1 584.9C461.1 587.1 460.8 590.4 460.2 594.1C459.6 597.8 458.5 603.1 457.4 607.1C456.3 611.1 454.6 615.2 453.7 618.3C452.8 621.4 452.7 624.9 451.8 625.7C450.9 626.5 449.3 624.5 448.1 622.9C446.9 621.3 445.3 619.0 444.4 616.4C443.5 613.8 442.5 610.2 442.5 607.1C442.5 604.0 443.5 600.9 444.4 597.8C445.3 594.7 446.2 591.2 448.1 588.6Z"/>
<ellipse cx="504.3" cy="581.4" rx="6.4" ry="4.3" transform="rotate(-30 504.3 581.4)"/>
</g>
<g fill="none" stroke="#5ad0d3" stroke-width="2.1" stroke-linejoin="round" stroke-linecap="round">
<path d="M209.6 560.6C206.8 559.8 197.8 555.9 192.9 556.0C188.0 556.1 185.2 558.8 180.0 561.2C174.8 563.6 166.3 569.1 162.0 570.2C157.7 571.3 157.3 570.0 154.3 567.6C151.3 565.2 147.4 558.7 144.0 556.0C140.6 553.3 137.3 551.0 133.8 551.4C130.3 551.8 126.2 558.8 123.0 558.6C119.8 558.4 118.7 552.8 114.5 550.4C110.3 548.0 103.1 547.1 97.7 544.4C92.3 541.7 87.2 537.9 82.3 534.1C77.4 530.3 73.5 525.9 68.6 521.7C63.6 517.5 57.5 512.9 52.6 509.1C47.7 505.3 42.7 502.5 38.9 498.9C35.1 495.3 31.4 492.0 29.7 487.4C28.0 482.8 27.8 476.0 28.6 471.4C29.4 466.8 33.2 464.2 34.3 460.0C35.4 455.8 35.5 450.0 35.4 446.0C35.3 442.0 34.5 438.8 33.5 436.0C32.5 433.2 32.4 432.3 29.7 429.1C27.0 425.9 19.8 420.7 17.1 417.0C14.4 413.3 15.2 410.2 13.7 407.0C12.2 403.8 8.2 401.0 8.0 398.0C7.8 395.0 12.9 392.2 12.6 389.0C12.3 385.8 7.0 383.0 6.0 379.0C5.0 375.0 5.6 368.6 6.9 365.0C8.2 361.4 10.7 359.0 13.7 357.1C16.7 355.2 21.5 353.8 25.1 353.7C28.7 353.6 32.0 356.7 35.4 356.5C38.8 356.3 41.7 353.8 45.7 352.6C49.7 351.4 55.6 350.2 59.4 349.1C63.2 348.0 65.7 347.6 68.6 345.7C71.5 343.8 74.7 340.9 76.6 337.7C78.5 334.5 79.6 330.1 80.0 326.3C80.4 322.5 78.7 317.9 78.9 314.9C79.1 311.9 78.6 309.6 81.1 308.5C83.6 307.4 90.5 308.9 93.7 308.0C97.0 307.1 97.5 306.3 100.6 303.4C103.6 300.5 108.0 291.9 112.0 290.4C116.0 288.9 121.5 294.0 124.6 294.3C127.6 294.6 128.8 294.1 130.3 292.0C131.8 289.9 131.4 284.6 133.7 281.7C136.0 278.8 141.1 276.7 144.0 274.9C146.9 273.1 148.6 271.0 150.9 271.0C153.2 271.0 156.2 273.1 157.7 274.9C159.2 276.7 158.1 279.0 160.0 281.7C161.9 284.4 166.4 287.1 169.1 290.9C171.8 294.7 174.9 299.9 176.0 304.6C177.1 309.4 175.7 315.6 175.5 319.4C175.3 323.2 172.9 325.5 174.9 327.4C176.9 329.3 183.4 329.2 187.4 330.9C191.4 332.6 195.7 335.2 198.9 337.7C202.2 340.2 204.5 341.6 206.9 345.7C209.3 349.8 211.4 358.9 213.5 362.0C215.6 365.1 216.0 363.7 219.4 364.5C222.8 365.3 229.1 366.3 234.0 366.7C238.9 367.1 245.0 366.1 248.9 366.6C252.8 367.1 254.8 368.0 257.7 369.5C260.6 371.0 263.9 373.9 266.6 375.5C269.3 377.1 271.5 378.5 274.0 379.1C276.5 379.7 278.9 379.6 281.4 379.1C283.9 378.6 285.9 377.4 288.8 376.2C291.8 375.0 295.7 372.9 299.1 371.8C302.5 370.7 305.9 370.2 309.4 369.5C312.8 368.8 316.8 368.3 319.8 367.3C322.8 366.3 324.8 365.3 327.2 363.6C329.6 361.9 332.7 359.2 334.5 357.0C336.3 354.8 337.7 352.4 338.2 350.3C338.7 348.2 336.6 346.5 337.5 344.4C338.4 342.3 340.3 338.8 343.3 337.5C346.3 336.2 351.1 339.0 355.5 336.8C359.9 334.6 366.4 327.9 370.0 324.2C373.6 320.5 373.7 317.3 377.3 314.5C380.9 311.7 388.2 308.4 391.9 307.2C395.6 306.0 399.3 308.4 399.7 307.2C400.1 306.0 396.8 301.2 394.3 299.9C391.8 298.6 389.1 299.1 384.6 299.4C380.2 299.7 370.8 303.8 367.6 301.8C364.4 299.9 365.2 292.7 365.2 287.7C365.2 282.7 366.0 274.9 367.6 271.9C369.2 268.9 372.1 270.1 374.9 269.5C377.7 268.9 382.2 270.1 384.6 268.3C387.0 266.5 388.1 263.5 389.5 258.6C390.9 253.7 392.9 244.0 393.1 239.1C393.3 234.2 390.5 232.0 390.7 229.4C390.9 226.8 393.1 224.8 394.3 223.4C395.6 222.0 395.7 222.1 398.2 220.9C400.7 219.7 404.0 216.7 409.1 216.1C414.2 215.5 423.7 215.9 428.6 217.3C433.5 218.7 435.7 221.4 438.3 224.6C440.9 227.8 442.3 232.7 444.3 236.7C446.3 240.7 448.2 245.8 450.4 248.8C452.6 251.8 454.5 253.7 457.7 254.9C460.9 256.1 466.2 254.9 469.8 256.1C473.4 257.3 476.7 260.0 479.5 262.2C482.3 264.4 484.4 268.9 486.8 269.5C489.2 270.1 491.3 267.6 494.1 265.8C496.9 264.0 500.8 260.6 503.8 258.6C506.8 256.6 510.6 253.7 512.3 253.7C514.0 253.7 513.8 254.6 514.0 258.6C514.2 262.7 513.6 272.4 513.5 278.0C513.4 283.6 513.9 288.4 513.5 292.5C513.1 296.6 512.7 299.5 511.1 302.3C509.5 305.1 505.6 307.1 503.8 309.5C502.0 311.9 500.6 314.4 500.2 316.8C499.8 319.2 500.6 322.3 501.4 324.1C502.2 325.9 504.4 325.7 505.0 327.7C505.6 329.7 506.0 333.8 505.0 336.2C504.0 338.6 501.2 340.5 499.0 342.3C496.8 344.1 493.7 345.4 491.7 347.2C489.7 349.0 488.4 351.4 486.8 353.2C485.2 355.0 483.9 356.6 481.9 358.1C479.9 359.6 476.9 361.2 475.0 362.3C473.1 363.4 471.9 363.7 470.4 364.6C468.9 365.6 466.8 366.3 465.9 368.0C464.9 369.7 465.5 372.6 464.7 374.9C463.9 377.2 463.0 379.6 461.3 381.7C459.6 383.8 457.1 385.7 454.4 387.4C451.7 389.1 448.0 390.3 445.3 392.0C442.6 393.7 440.6 396.0 438.4 397.7C436.2 399.4 433.1 401.9 432.0 402.3C430.9 402.7 431.5 401.5 431.6 400.0C431.7 398.5 432.5 395.6 432.7 393.1C432.9 390.6 433.1 387.0 432.7 385.1C432.3 383.2 431.5 382.0 430.4 381.7C429.3 381.4 427.4 382.2 425.9 383.4C424.4 384.5 422.8 386.6 421.3 388.6C419.8 390.6 417.8 393.6 416.7 395.4C415.6 397.2 415.7 398.0 414.6 399.4C413.5 400.8 411.6 402.7 410.0 403.9C408.4 405.1 406.4 406.0 404.7 406.4C403.0 406.8 400.6 405.7 399.6 406.4C398.6 407.1 399.0 409.4 398.7 410.7C398.4 412.0 398.0 412.9 398.0 414.3C398.0 415.7 397.6 417.9 398.6 418.9C399.7 419.8 402.4 419.4 404.3 420.0C406.2 420.6 408.7 421.2 410.0 422.3C411.3 423.4 411.4 425.6 412.3 426.9C413.2 428.2 414.4 430.1 415.7 430.3C417.0 430.5 419.0 429.1 420.3 428.0C421.6 426.9 422.2 424.4 423.7 423.4C425.2 422.3 427.3 421.9 429.4 421.7C431.5 421.5 434.0 422.2 436.3 422.3C438.6 422.4 441.7 421.7 443.1 422.3C444.5 422.9 445.3 424.4 444.9 425.7C444.5 427.0 442.5 428.8 440.9 430.3C439.3 431.8 437.0 433.2 435.1 434.9C433.2 436.6 431.1 438.7 429.4 440.6C427.7 442.5 426.0 444.4 424.9 446.3C423.8 448.2 423.2 450.2 422.6 452.0C422.0 453.8 420.6 455.6 421.0 457.0C421.4 458.4 423.8 458.9 425.1 460.6C426.4 462.3 427.5 465.1 428.6 467.4C429.8 469.7 430.9 472.0 432.0 474.3C433.1 476.6 434.2 479.1 435.4 481.1C436.5 483.1 437.5 484.6 438.9 486.3C440.3 488.0 442.6 489.8 444.0 491.4C445.4 493.0 446.3 494.6 447.0 496.1C447.7 497.7 447.7 499.6 448.1 500.7C448.5 501.8 449.0 501.9 449.3 503.0C449.6 504.1 450.1 506.3 449.9 507.6C449.7 508.9 448.0 509.5 448.1 511.0C448.2 512.5 449.4 514.6 450.4 516.7C451.4 518.8 453.2 521.2 453.9 523.6C454.6 526.0 454.6 528.3 454.5 531.0C454.4 533.7 453.6 537.1 453.1 539.8C452.6 542.5 452.4 545.0 451.3 547.2C450.2 549.4 447.8 551.2 446.6 552.8C445.4 554.3 444.8 554.6 443.9 556.5C443.0 558.4 442.0 561.6 441.0 564.0C440.0 566.4 439.2 568.5 438.0 571.0C436.8 573.5 435.4 576.3 434.0 579.0C432.6 581.7 431.2 584.5 429.5 587.0C427.8 589.5 425.9 591.6 424.0 594.0C422.1 596.4 420.3 599.2 418.4 601.6C416.5 604.0 414.0 605.9 412.8 608.1C411.6 610.3 412.2 612.6 411.0 614.6C409.8 616.6 407.6 618.7 405.4 620.1C403.2 621.5 400.5 622.3 398.0 622.9C395.5 623.5 392.5 623.0 390.5 623.8C388.5 624.6 387.1 626.4 385.9 627.5C384.7 628.6 384.7 630.0 383.1 630.3C381.6 630.6 378.8 628.8 376.6 629.4C374.4 630.0 372.7 632.6 370.1 634.0C367.5 635.4 363.9 636.5 360.8 637.8C357.7 639.0 354.4 640.1 351.6 641.5C348.8 642.9 345.7 644.4 344.1 646.1C342.6 647.8 342.5 649.9 342.3 651.7C342.1 653.6 344.0 656.4 343.2 657.2C342.4 658.0 339.0 657.2 337.6 656.3C336.2 655.4 335.4 653.7 334.6 651.7C333.8 649.7 334.2 645.7 332.8 644.3C331.4 642.9 329.2 643.5 326.3 643.3C323.4 643.1 318.2 643.8 315.1 643.3C312.0 642.8 309.9 642.0 307.7 640.6C305.5 639.2 304.0 637.2 302.1 635.0C300.2 632.8 299.0 629.3 296.5 627.6C294.0 625.9 290.1 624.8 287.3 624.8C284.5 624.8 282.6 626.5 279.8 627.6C277.0 628.7 274.0 630.2 270.6 631.3C267.2 632.4 262.2 633.2 259.4 634.1C256.6 635.0 255.0 635.1 253.8 636.8C252.6 638.5 252.8 642.0 252.0 644.3C251.2 646.6 251.4 650.5 249.2 650.8C247.0 651.1 242.2 647.8 239.0 646.1C235.8 644.4 232.5 642.5 229.7 640.6C226.9 638.8 224.0 637.2 222.3 635.0C220.6 632.8 220.1 630.4 219.5 627.6C218.9 624.8 219.4 620.8 218.6 618.3C217.8 615.8 216.8 614.1 214.9 612.7C213.0 611.3 209.3 611.1 207.4 609.9C205.5 608.7 204.0 607.6 203.7 605.3C203.4 603.0 204.4 599.1 205.6 596.0C206.8 592.9 209.2 589.5 211.1 586.7C212.9 583.9 215.6 581.8 216.7 579.3C217.8 576.8 218.6 574.5 217.4 571.4C216.2 568.3 210.9 562.4 209.6 560.6"/>
<path d="M35.4 446.0C37.1 446.1 42.5 447.5 45.7 446.3C49.0 445.1 51.5 440.1 54.9 439.0C58.3 437.9 62.5 440.2 66.3 439.9C70.1 439.6 74.7 436.8 77.7 437.1C80.8 437.4 81.5 440.7 84.6 441.7C87.6 442.7 91.8 443.2 96.0 442.9C100.2 442.6 104.8 440.9 109.7 439.9C114.7 438.9 121.1 437.0 125.7 437.1C130.3 437.2 132.7 439.3 137.1 440.6C141.5 441.9 148.8 446.4 152.0 445.1C155.2 443.8 156.4 436.6 156.6 432.6C156.8 428.6 153.5 424.2 153.1 421.1C152.7 418.1 152.4 415.8 154.3 414.3C156.2 412.8 160.2 412.9 164.6 412.0C169.0 411.1 176.0 409.0 180.6 408.6C185.2 408.2 188.6 408.8 192.0 409.7C195.4 410.6 198.2 412.5 201.1 414.3C203.9 416.1 206.8 420.5 209.1 420.7C211.4 420.9 212.0 416.1 214.9 415.4C217.8 414.7 222.8 415.6 226.3 416.6C229.8 417.6 232.9 419.9 235.7 421.4C238.5 422.9 240.5 424.3 242.9 425.7C245.3 427.1 247.6 428.6 250.0 430.0C252.4 431.4 255.3 432.4 257.1 434.3C258.9 436.2 259.7 438.8 260.7 441.4C261.7 444.0 262.4 447.4 262.9 450.0C263.4 452.6 264.0 454.5 263.6 457.1C263.2 459.7 261.9 463.3 260.7 465.7C259.5 468.1 257.7 469.2 256.4 471.4C255.1 473.5 254.0 476.5 252.9 478.6C251.8 480.7 249.8 481.9 250.0 484.0C250.2 486.1 253.3 489.8 254.0 491.0"/>
<path d="M180.6 408.6C180.2 407.3 178.7 403.1 178.3 400.6C177.9 398.1 177.5 395.8 178.3 393.7C179.1 391.6 181.1 389.5 183.0 388.0C184.9 386.5 187.2 385.9 189.7 384.6C192.2 383.3 195.3 381.3 198.0 380.0C200.7 378.7 203.5 378.4 205.7 376.6C207.9 374.8 209.7 371.4 211.0 369.0C212.3 366.6 213.1 363.2 213.5 362.0"/>
<path d="M213.5 362.0C214.2 362.7 216.9 364.3 218.0 366.0C219.1 367.7 219.0 368.7 220.0 372.0C221.0 375.3 222.3 382.4 224.0 386.0C225.7 389.6 227.2 392.2 230.0 393.6C232.8 395.0 238.8 393.6 240.7 394.3C242.6 395.0 241.9 396.5 241.4 397.9C240.9 399.3 237.7 400.6 237.9 402.9C238.2 405.1 240.7 408.7 242.9 411.4C245.2 414.1 249.2 417.9 251.4 419.3C253.7 420.7 254.7 420.8 256.4 420.0C258.1 419.2 259.6 415.5 261.4 414.3C263.2 413.1 265.0 413.0 267.1 412.9C269.2 412.8 272.9 412.9 274.3 413.6C275.7 414.3 275.9 415.1 275.7 417.1C275.5 419.1 273.4 423.3 272.9 425.7C272.4 428.1 272.2 429.8 272.9 431.4C273.6 432.9 275.6 434.3 277.1 435.0C278.6 435.7 280.4 435.7 282.1 435.7C283.8 435.7 285.8 436.1 287.1 435.0C288.4 433.9 289.2 432.2 290.0 429.3C290.8 426.4 290.8 420.0 291.7 417.3C292.6 414.6 293.8 413.7 295.1 413.0C296.4 412.3 298.3 412.4 299.4 413.0C300.5 413.6 301.3 414.7 301.6 416.4C301.9 418.1 300.9 421.1 301.1 423.3C301.3 425.5 302.0 427.7 302.9 429.3C303.8 430.9 304.9 431.9 306.3 432.7C307.7 433.5 309.7 434.0 311.4 434.0C313.1 434.0 315.3 433.6 316.6 432.7C317.9 431.8 318.2 430.2 319.1 428.4C320.0 426.5 320.8 423.5 321.7 421.6C322.6 419.8 323.1 418.5 324.3 417.3C325.5 416.1 326.9 415.4 328.6 414.7C330.3 414.0 332.9 413.9 334.6 413.4C336.3 412.9 337.5 412.9 338.9 411.7C340.3 410.5 341.2 408.2 343.1 406.1C345.0 404.0 348.0 401.2 350.0 399.3C352.0 397.4 353.5 395.9 355.2 394.7C356.9 393.5 359.1 393.5 360.1 391.9C361.1 390.3 360.8 387.4 361.4 385.0C362.0 382.6 362.7 379.1 363.6 377.3C364.5 375.5 366.0 374.6 367.0 374.3C368.0 374.0 368.8 375.2 369.6 375.6C370.5 376.0 371.0 376.9 372.1 376.9C373.2 376.9 374.7 376.0 376.4 375.6C378.1 375.2 381.0 375.2 382.4 374.3C383.8 373.4 384.0 371.6 384.6 370.0C385.2 368.4 385.1 366.1 385.9 364.9C386.7 363.7 388.0 362.9 389.3 362.7C390.6 362.5 392.5 362.9 393.6 363.6C394.7 364.3 395.2 365.6 396.1 367.0C397.0 368.4 397.4 370.0 398.7 372.1C400.0 374.2 403.2 378.2 404.1 379.4"/>
<path d="M404.1 379.4C404.5 378.4 405.8 375.4 406.4 373.7C407.0 372.0 407.0 370.2 407.6 369.1C408.2 368.0 408.6 367.8 409.9 366.9C411.2 365.9 413.3 364.9 415.6 363.4C417.9 361.9 420.8 359.6 423.6 357.7C426.5 355.8 430.2 354.1 432.7 352.0C435.2 349.9 437.6 347.2 438.4 345.1C439.2 343.0 438.1 341.1 437.3 339.4C436.6 337.7 435.6 336.2 433.9 334.9C432.2 333.6 428.9 332.7 427.0 331.4C425.1 330.1 423.3 328.8 422.4 326.9C421.4 325.0 421.5 322.1 421.3 320.0C421.1 317.9 420.3 316.8 421.3 314.4C422.3 312.0 426.9 308.3 427.3 305.9C427.7 303.5 424.1 302.4 423.7 299.8C423.3 297.2 423.7 293.7 424.9 290.1C426.1 286.5 429.4 282.1 431.0 278.0C432.6 273.9 434.0 270.9 434.6 265.8C435.2 260.7 435.0 251.9 434.6 247.6C434.2 243.3 433.1 241.4 432.0 240.0C430.9 238.6 429.3 239.1 428.0 239.2C426.7 239.3 425.6 239.5 424.0 240.5C422.4 241.5 420.2 244.8 418.5 245.0C416.8 245.2 415.2 243.5 413.5 242.0C411.8 240.5 409.9 237.5 408.0 236.0C406.1 234.5 403.4 234.1 402.0 233.0C400.6 231.9 400.0 231.4 399.4 229.4C398.8 227.4 398.4 222.3 398.2 220.9"/>
<path d="M404.1 379.4C404.8 380.2 406.9 382.5 408.1 384.1C409.4 385.8 410.2 387.4 411.6 389.3C413.0 391.2 415.9 394.4 416.7 395.4"/>
<path d="M438.4 345.1C439.5 345.5 443.0 346.4 445.3 347.4C447.6 348.4 450.4 349.4 452.1 350.9C453.8 352.4 454.5 354.3 455.6 356.6C456.8 358.9 457.7 362.1 459.0 364.6C460.3 367.1 462.7 369.7 463.6 371.4C464.6 373.1 464.5 374.3 464.7 374.9"/>
<path d="M427.3 305.9C428.3 307.0 429.9 310.6 433.4 312.5C436.8 314.4 442.3 315.4 448.0 317.0C453.7 318.6 461.7 320.9 467.4 322.3C473.1 323.7 477.1 324.8 482.0 325.6C486.9 326.4 492.7 326.6 496.5 327.0C500.3 327.4 503.6 327.6 505.0 327.7"/>
<path d="M390.6 391.0C391.2 391.7 393.3 394.0 394.4 395.3C395.5 396.6 396.3 397.4 397.0 398.7C397.7 400.0 398.3 401.7 398.7 403.0C399.1 404.3 399.5 405.8 399.6 406.4"/>
<path d="M389.3 403.0C389.4 403.9 389.4 406.4 389.7 408.1C390.0 409.8 389.6 411.9 391.0 413.3C392.4 414.7 396.8 416.1 398.0 416.6"/>
<path d="M398.0 416.6C397.1 417.6 394.7 420.4 392.9 422.3C391.1 424.2 389.0 425.9 387.1 428.0C385.2 430.1 382.7 432.6 381.4 434.9C380.1 437.2 379.6 439.4 379.1 441.7C378.6 444.0 378.5 447.0 378.6 448.6C378.7 450.2 379.6 450.8 379.8 451.2"/>
<path d="M361.4 385.0C361.6 386.0 362.0 389.1 362.7 391.0C363.4 392.9 364.7 394.1 365.3 396.1C365.9 398.1 365.9 400.7 366.1 403.0C366.3 405.3 366.6 407.9 366.6 409.9C366.6 411.9 366.5 413.2 366.1 415.0C365.7 416.8 364.4 417.4 364.0 420.5C363.6 423.6 363.8 428.9 364.0 433.5C364.2 438.1 364.8 445.9 365.0 448.4"/>
<path d="M334.6 413.4C334.6 414.6 334.8 418.0 334.6 420.7C334.5 423.4 334.0 426.4 333.7 429.3C333.4 432.2 333.0 435.0 332.9 437.9C332.8 440.8 333.2 443.5 333.3 446.4C333.4 449.2 333.5 452.4 333.7 455.0C333.9 457.6 333.9 459.2 334.3 462.0C334.7 464.8 335.7 468.8 336.2 471.6C336.7 474.4 336.5 475.9 337.1 478.6C337.7 481.3 339.4 486.3 339.9 487.8"/>
<path d="M336.2 471.6C337.9 470.8 343.1 468.7 346.4 467.0C349.6 465.3 352.6 464.5 355.7 461.4C358.8 458.3 362.2 450.3 365.0 448.4C367.8 446.5 369.9 449.7 372.4 450.2C374.9 450.7 378.6 451.0 379.8 451.2"/>
<path d="M379.8 451.2C379.6 453.0 378.0 459.4 378.4 461.9C378.8 464.4 380.4 465.4 381.9 466.4C383.4 467.3 385.9 467.2 387.6 467.6C389.3 468.0 390.8 468.7 392.1 468.7C393.4 468.7 394.1 468.2 395.6 467.6C397.1 467.0 399.2 466.2 401.3 465.3C403.4 464.4 405.8 462.8 408.1 461.9C410.4 461.0 413.0 460.7 415.0 460.1C417.0 459.5 419.1 458.9 420.1 458.4C421.1 457.9 420.9 457.2 421.0 457.0"/>
<path d="M392.1 468.7C392.4 469.5 393.7 472.0 393.9 473.3C394.1 474.6 394.2 475.9 393.3 476.7C392.4 477.5 390.2 476.9 388.7 477.9C387.2 478.8 385.2 480.7 384.1 482.4C383.0 484.1 381.9 486.4 381.9 488.1C381.9 489.8 383.0 491.2 384.1 492.7C385.2 494.2 387.7 495.8 388.7 497.3C389.7 498.8 390.1 500.4 389.9 501.9C389.7 503.4 388.6 505.3 387.6 506.4C386.6 507.5 384.7 508.3 384.1 508.7"/>
<path d="M393.3 469.0C394.1 469.5 396.2 470.8 397.9 472.1C399.6 473.4 401.7 475.0 403.6 476.7C405.5 478.4 407.6 480.9 409.3 482.4C411.0 483.9 412.0 485.3 413.9 485.9C415.8 486.5 418.5 486.9 420.7 485.9C422.9 484.9 424.9 481.9 427.0 480.0C429.1 478.1 432.5 475.7 433.6 474.8"/>
<path d="M420.7 485.9C420.1 486.8 418.1 489.7 417.3 491.6C416.5 493.5 415.4 495.4 415.6 497.3C415.8 499.2 417.0 501.4 418.4 503.0C419.8 504.6 422.4 506.1 424.1 507.0C425.8 507.9 426.8 507.9 428.7 508.1C430.6 508.3 433.5 508.3 435.6 508.1C437.7 507.9 440.0 507.9 441.3 507.0C442.6 506.1 443.2 503.7 443.6 503.0"/>
<path d="M339.9 487.8C340.7 489.1 342.5 493.3 344.5 495.3C346.5 497.3 348.3 498.5 352.0 499.9C355.7 501.3 362.5 502.4 366.8 503.6C371.1 504.8 375.1 506.5 378.0 507.3C380.9 508.1 383.1 508.5 384.1 508.7"/>
<path d="M384.1 508.7C385.1 509.5 388.4 511.6 389.9 513.3C391.4 515.0 392.6 516.9 393.3 519.0C394.1 521.1 394.0 524.0 394.4 525.9C394.8 527.8 395.0 529.6 395.6 530.4C396.2 531.1 396.2 530.6 397.9 530.4C399.6 530.2 403.0 529.3 405.9 529.3C408.8 529.3 413.1 529.8 415.0 530.4C416.9 531.0 416.9 532.6 417.3 533.0"/>
<path d="M427.6 508.7C427.4 509.6 427.0 512.3 426.4 514.4C425.8 516.5 425.1 519.0 424.1 521.3C423.2 523.6 421.8 526.1 420.7 528.1C419.6 530.1 417.8 531.0 417.3 533.0C416.8 535.0 417.2 537.3 417.5 540.0C417.8 542.7 417.4 547.0 418.8 549.1C420.2 551.2 423.1 551.7 426.2 552.8C429.3 553.9 434.4 555.0 437.4 555.6C440.3 556.2 442.8 556.4 443.9 556.5"/>
<path d="M417.5 540.0C417.1 541.2 416.4 545.4 415.1 547.2C413.8 549.0 411.2 548.8 409.5 551.0C407.8 553.2 406.3 556.8 404.9 560.2C403.5 563.6 402.1 568.0 401.2 571.4C400.3 574.8 399.8 577.8 399.3 580.6C398.8 583.4 398.2 585.4 398.0 588.0C397.8 590.6 398.0 594.7 398.0 596.0"/>
<path d="M395.6 530.4C393.9 531.0 388.6 532.5 385.4 534.2C382.1 535.9 378.6 540.2 376.1 540.7C373.6 541.2 372.7 538.1 370.5 537.0C368.3 535.9 366.5 535.1 363.1 534.2C359.7 533.3 353.5 532.0 350.1 531.5C346.7 531.0 345.2 530.7 342.7 531.5C340.2 532.3 337.5 535.0 335.3 536.1C333.1 537.2 331.2 536.9 329.7 538.0C328.1 539.1 326.6 541.8 326.0 542.6"/>
<path d="M376.1 540.7C375.8 542.7 374.7 548.6 374.2 552.8C373.7 557.0 373.1 562.1 373.3 565.8C373.5 569.5 374.9 572.6 375.5 575.0C376.1 577.4 376.3 577.7 376.6 580.0C376.9 582.3 377.6 587.0 377.5 588.6C377.4 590.2 376.0 589.4 375.7 589.5"/>
<path d="M383.1 600.6C384.2 600.1 387.1 598.6 389.6 597.8C392.1 597.0 395.4 596.3 398.0 596.0C400.6 595.7 403.2 595.1 405.4 596.0C407.6 596.9 409.8 599.6 411.0 601.6C412.2 603.6 412.5 607.0 412.8 608.1"/>
<path d="M272.4 571.9C273.2 572.9 275.8 575.2 277.0 578.0C278.2 580.8 279.0 585.3 279.8 588.6C280.6 591.9 280.4 595.9 281.7 597.9C282.9 599.9 284.8 600.6 287.3 600.6C289.8 600.6 293.7 599.0 296.5 597.9C299.3 596.8 301.5 594.6 304.0 594.1C306.5 593.6 308.6 595.6 311.4 595.1C314.2 594.6 317.7 592.8 320.7 591.4C323.7 590.0 326.3 588.1 329.3 586.7C332.3 585.3 335.8 584.2 338.6 583.0C341.4 581.8 344.3 579.3 346.0 579.3C347.7 579.3 348.5 581.5 348.8 583.0C349.1 584.5 348.3 586.8 347.8 588.6C347.3 590.5 345.7 592.7 346.0 594.1C346.3 595.5 347.8 596.6 349.7 596.9C351.6 597.2 354.8 596.3 357.1 596.0C359.4 595.7 361.9 595.4 363.6 595.1C365.3 594.8 366.5 594.9 367.3 594.1C368.1 593.3 366.9 591.2 368.3 590.4C369.7 589.6 373.1 589.5 375.7 589.5C378.3 589.5 382.4 589.6 384.0 590.4C385.6 591.2 385.1 592.4 385.0 594.1C384.9 595.8 383.4 599.5 383.1 600.6"/>
<path d="M357.1 596.0C357.0 597.5 357.1 601.9 356.2 605.3C355.3 608.7 353.6 612.7 351.6 616.4C349.6 620.1 346.7 623.8 344.1 627.5C341.5 631.2 337.2 636.8 335.8 638.7"/>
<path d="M281.7 597.9C282.2 599.0 282.9 602.4 284.5 604.3C286.1 606.1 289.1 607.5 291.0 609.0C292.9 610.5 295.1 611.8 295.6 613.6C296.1 615.5 295.2 618.2 293.8 620.1C292.4 622.0 288.4 624.0 287.3 624.8"/>
<path d="M223.8 544.4C224.2 545.7 225.0 549.7 226.0 552.0C227.0 554.3 228.7 557.3 230.0 558.0C231.3 558.7 232.7 555.7 234.0 556.0C235.3 556.3 236.3 558.0 238.0 560.0C239.7 562.0 242.3 565.0 244.0 568.0C245.7 571.0 246.7 575.3 248.0 578.0C249.3 580.7 250.1 583.5 252.0 584.0C253.9 584.5 257.5 582.8 259.4 581.1C261.2 579.4 261.8 576.2 263.1 573.7C264.4 571.2 265.9 568.6 267.0 566.0C268.1 563.4 268.7 559.7 270.0 558.0C271.3 556.3 273.3 555.3 275.0 556.0C276.7 556.7 277.8 561.0 280.0 562.0C282.2 563.0 286.0 563.3 288.0 562.0C290.0 560.7 290.7 556.3 292.0 554.0C293.3 551.7 295.3 549.0 296.0 548.0"/>
<path d="M288.0 562.0C286.7 562.0 282.2 561.3 280.0 562.0C277.8 562.7 276.3 564.4 275.0 566.0C273.7 567.6 272.8 570.9 272.4 571.9"/>
<path d="M209.6 560.6C210.8 559.3 214.6 555.7 217.0 553.0C219.4 550.3 222.7 545.8 223.8 544.4"/>
<path d="M223.8 544.4C223.6 542.0 223.2 534.5 222.5 530.0C221.8 525.5 220.9 521.7 219.4 517.1C217.9 512.5 214.6 504.8 213.7 502.3"/>
<path d="M137.1 440.6C137.5 443.5 138.8 451.8 139.4 457.7C140.0 463.6 139.1 471.4 140.6 476.0C142.1 480.6 144.2 482.2 148.6 485.1C153.0 488.0 161.2 491.2 166.9 493.1C172.6 495.0 178.3 494.7 182.9 496.6C187.5 498.5 191.3 502.9 194.3 504.6C197.3 506.3 198.4 506.9 201.1 506.9C203.8 506.9 208.2 505.4 210.3 504.6C212.4 503.8 213.1 505.1 213.7 502.3C214.3 499.5 213.4 491.7 214.0 488.0C214.6 484.3 215.7 481.0 217.0 480.0C218.3 479.0 220.2 480.0 222.0 482.0C223.8 484.0 225.7 489.2 228.0 492.0C230.3 494.8 233.0 498.0 236.0 499.0C239.0 500.0 243.0 499.3 246.0 498.0C249.0 496.7 251.3 493.7 254.0 491.0C256.7 488.3 259.5 483.8 262.0 482.0C264.5 480.2 267.0 479.7 269.0 480.0C271.0 480.3 272.3 481.7 274.0 484.0C275.7 486.3 277.3 491.3 279.0 494.0C280.7 496.7 282.3 499.0 284.0 500.0C285.7 501.0 288.2 500.0 289.0 500.0"/>
<path d="M294.0 499.0C295.7 499.5 301.0 501.0 304.0 502.0C307.0 503.0 309.3 504.2 312.0 505.0C314.7 505.8 317.2 506.1 320.0 507.0C322.8 507.9 327.3 509.6 328.8 510.1"/>
<path d="M302.9 440.0C304.1 440.9 307.6 444.0 310.0 445.7C312.4 447.4 315.6 448.3 317.1 450.0C318.7 451.7 319.5 453.6 319.3 455.7C319.1 457.8 317.2 461.0 315.7 462.9C314.1 464.8 312.1 466.2 310.0 467.1C307.9 468.1 304.6 467.9 302.9 468.6C301.2 469.3 300.7 469.5 300.0 471.4C299.3 473.3 299.6 477.2 298.6 480.0C297.6 482.8 295.4 485.3 294.0 488.0C292.6 490.7 290.8 494.0 290.0 496.0C289.2 498.0 289.2 499.3 289.0 500.0"/>
<path d="M282.1 435.7C282.2 436.6 282.4 439.2 282.9 441.4C283.4 443.5 284.1 446.0 285.0 448.6C285.9 451.2 287.3 454.9 288.6 457.1C289.9 459.4 291.2 461.4 292.9 462.1C294.6 462.8 297.3 462.5 298.6 461.4C299.9 460.3 300.5 457.8 300.7 455.7C300.9 453.6 299.9 450.7 300.0 448.6C300.1 446.5 300.9 444.3 301.4 442.9C301.9 441.5 302.6 442.3 302.9 440.0C303.1 437.7 302.9 431.1 302.9 429.3"/>
<path d="M339.9 487.8C338.8 488.6 334.9 490.3 333.4 492.5C331.8 494.7 331.4 497.9 330.6 500.8C329.8 503.7 329.1 508.6 328.8 510.1"/>
<path d="M320.0 507.0C319.3 508.5 317.7 512.8 316.0 516.0C314.3 519.2 312.7 523.0 310.0 526.0C307.3 529.0 302.7 531.5 300.0 534.0C297.3 536.5 294.7 538.7 294.0 541.0C293.3 543.3 295.7 546.8 296.0 548.0"/>
<path d="M328.8 510.1C329.7 510.9 333.4 513.4 334.3 515.0C335.2 516.6 335.1 518.7 334.0 520.0C332.9 521.3 329.9 522.0 328.0 523.0C326.1 524.0 323.6 524.7 322.3 526.0C321.0 527.3 320.4 529.3 320.4 531.0C320.4 532.7 321.4 534.5 322.3 536.0C323.2 537.5 325.4 538.9 326.0 540.0C326.6 541.1 326.0 542.2 326.0 542.6"/>
<path d="M296.0 548.0C297.3 547.8 301.3 547.3 304.0 547.0C306.7 546.7 309.3 545.9 312.0 546.0C314.7 546.1 317.5 546.7 320.0 547.5C322.5 548.3 325.8 550.4 326.9 551.0"/>
<path d="M326.0 542.6C326.1 544.0 326.4 547.1 326.9 551.0C327.4 554.9 328.6 561.2 328.8 565.8C329.0 570.4 327.7 575.3 327.8 578.8C327.9 582.3 329.1 585.4 329.3 586.7"/>
<path d="M484.3 554.3C485.0 555.5 486.7 559.3 488.6 561.4C490.5 563.5 493.1 565.7 495.7 567.1C498.3 568.5 502.4 569.5 504.3 570.0C506.2 570.5 505.4 570.7 507.1 570.0C508.8 569.3 511.7 567.0 514.3 565.7C516.9 564.4 520.0 563.1 522.9 562.1C525.8 561.1 528.8 560.8 531.4 560.0C534.0 559.2 536.6 558.1 538.6 557.1C540.6 556.1 542.8 554.8 543.6 554.3"/>
<path d="M504.8 569.0C505.2 568.0 506.0 565.0 507.1 562.9C508.2 560.8 510.7 557.5 511.4 556.4"/>
<path d="M551.8 553.9C552.1 554.8 552.8 557.6 553.4 559.0C554.0 560.4 554.7 562.1 555.4 562.0C556.1 561.9 556.8 559.6 557.5 558.5C558.2 557.4 559.1 555.7 559.4 555.1"/>
<path d="M379.9 388.4C380.9 387.1 382.8 386.3 384.1 385.9C385.5 385.5 387.0 385.5 388.0 385.9C389.0 386.3 389.7 387.5 390.1 388.4C390.5 389.2 390.7 389.7 390.6 391.0C390.5 392.3 390.0 394.2 389.7 396.1C389.4 398.0 389.7 400.8 388.9 402.1C388.1 403.4 386.5 403.7 385.0 403.9C383.5 404.1 381.2 404.1 379.9 403.4C378.6 402.7 377.6 401.2 377.3 399.6C377.0 398.0 377.7 395.5 378.1 393.6C378.5 391.7 378.9 389.7 379.9 388.4Z"/>
<path d="M443.6 503.0C443.8 501.9 444.1 501.1 444.7 500.7C445.3 500.3 446.2 500.3 447.0 500.7C447.8 501.1 448.8 501.9 449.3 503.0C449.8 504.1 450.1 506.3 449.9 507.6C449.7 508.9 448.8 510.6 448.1 511.0C447.4 511.4 446.6 510.5 445.9 509.9C445.1 509.3 444.0 508.8 443.6 507.6C443.2 506.5 443.4 504.1 443.6 503.0Z"/>
<path d="M343.2 659.1C345.8 659.3 347.7 659.8 348.8 661.0C349.9 662.2 350.2 664.3 349.7 666.5C349.2 668.7 347.9 671.5 346.0 674.0C344.1 676.5 341.1 679.9 338.6 681.4C336.1 682.9 333.4 683.5 331.1 683.2C328.8 682.9 326.0 681.4 324.6 679.5C323.2 677.6 322.6 674.6 322.8 672.1C323.0 669.6 323.9 666.7 325.6 664.7C327.3 662.7 330.1 660.9 333.0 660.0C335.9 659.1 340.6 658.9 343.2 659.1Z"/>
<path d="M448.1 588.6C450.0 586.0 453.5 583.4 455.5 582.1C457.5 580.9 459.3 580.6 460.2 581.1C461.1 581.6 461.1 582.7 461.1 584.9C461.1 587.1 460.8 590.4 460.2 594.1C459.6 597.8 458.5 603.1 457.4 607.1C456.3 611.1 454.6 615.2 453.7 618.3C452.8 621.4 452.7 624.9 451.8 625.7C450.9 626.5 449.3 624.5 448.1 622.9C446.9 621.3 445.3 619.0 444.4 616.4C443.5 613.8 442.5 610.2 442.5 607.1C442.5 604.0 443.5 600.9 444.4 597.8C445.3 594.7 446.2 591.2 448.1 588.6Z"/>
<ellipse cx="504.3" cy="581.4" rx="6.4" ry="4.3" transform="rotate(-30 504.3 581.4)"/>
</g>
<g fill="#7b78d6">
<circle cx="148.6" cy="324.7" r="2.3"/>
<circle cx="141.0" cy="528.2" r="2.3"/>
<circle cx="249.3" cy="437.9" r="2.3"/>
<circle cx="270.3" cy="457.6" r="2.3"/>
<circle cx="296.4" cy="434.3" r="2.3"/>
<circle cx="351.5" cy="387.0" r="2.3"/>
<circle cx="351.4" cy="435.0" r="2.3"/>
<circle cx="320.6" cy="474.0" r="2.3"/>
<circle cx="368.7" cy="474.0" r="2.3"/>
<circle cx="397.0" cy="406.3" r="2.3"/>
<circle cx="371.4" cy="423.4" r="2.3"/>
<circle cx="402.2" cy="443.4" r="2.3"/>
<circle cx="436.7" cy="369.1" r="2.3"/>
<circle cx="457.3" cy="341.7" r="2.3"/>
<circle cx="460.1" cy="310.0" r="2.3"/>
<circle cx="401.9" cy="499.9" r="2.3"/>
<circle cx="426.7" cy="502.1" r="2.3"/>
<circle cx="445.9" cy="505.3" r="2.3"/>
<circle cx="436.5" cy="513.9" r="2.3"/>
<circle cx="381.2" cy="521.4" r="2.3"/>
<circle cx="311.6" cy="533.5" r="2.3"/>
<circle cx="270.0" cy="519.6" r="2.3"/>
<circle cx="310.7" cy="575.8" r="2.3"/>
<circle cx="368.7" cy="559.3" r="2.3"/>
<circle cx="400.2" cy="550.4" r="2.3"/>
<circle cx="431.6" cy="570.6" r="2.3"/>
<circle cx="258.0" cy="608.0" r="2.3"/>
<circle cx="320.9" cy="623.8" r="2.3"/>
<circle cx="378.7" cy="609.5" r="2.3"/>
<circle cx="378.5" cy="629.4" r="2.3"/>
<circle cx="384.6" cy="630.0" r="2.3"/>
<circle cx="340.4" cy="669.7" r="2.3"/>
<circle cx="452.2" cy="596.0" r="2.3"/>
</g>
<polygon points="384.90,388.60 386.08,391.58 389.27,391.78 386.80,393.82 387.60,396.92 384.90,395.20 382.20,396.92 383.00,393.82 380.53,391.78 383.72,391.58" fill="#f27b7b" stroke="#ee6464" stroke-width="0.8" stroke-linejoin="round"/>
</svg>
<div class="lb" style="left:75.4px;top:337.0px">新疆维吾尔自治区<span class="n">(178)</span></div>
<div class="lb" style="left:443.6px;top:283.0px">黑龙江省<span class="n">(290)</span></div>
<div class="lb" style="left:440.0px;top:322.5px">吉林省<span class="n">(318)</span></div>
<div class="lb" style="left:271.0px;top:373.0px">内蒙古自治区<span class="n">(279)</span></div>
<div class="lb" style="left:371.5px;top:372.5px">北京市<span class="n">(5196)</span></div>
<div class="lb" style="left:442.0px;top:372.0px">辽宁省<span class="n">(694)</span></div>
<div class="lb" style="left:407.7px;top:399.0px">天津市<span class="n">(2450)</span></div>
<div class="lb" style="left:318.6px;top:408.5px">山西省<span class="n">(1113)</span></div>
<div class="lb" style="left:374.2px;top:416.0px">河北省<span class="n">(2938)</span></div>
<div class="lb" style="left:259.0px;top:430.5px">宁夏回族自治区<span class="n">(188)</span></div>
<div class="lb" style="left:199.3px;top:435.6px">青海省<span class="n">(58)</span></div>
<div class="lb" style="left:409.5px;top:440.0px">山东省<span class="n">(4563)</span></div>
<div class="lb" style="left:255.0px;top:462.6px">甘肃省<span class="n">(251)</span></div>
<div class="lb" style="left:362.2px;top:456.0px">河南省<span class="n">(1988)</span></div>
<div class="lb" style="left:310.2px;top:478.5px">陕西省<span class="n">(1828)</span></div>
<div class="lb" style="left:377.0px;top:475.0px">安徽省<span class="n">(1951)</span></div>
<div class="lb" style="left:428.3px;top:486.5px">江苏省<span class="n">(5998)</span></div>
<div class="lb" style="left:457.2px;top:498.7px">上海市<span class="n">(5278)</span></div>
<div class="lb" style="left:431.5px;top:519.3px">浙江省<span class="n">(5309)</span></div>
<div class="lb" style="left:361.3px;top:515.6px">湖北省<span class="n">(2113)</span></div>
<div class="lb" style="left:247.6px;top:524.8px">四川省<span class="n">(2253)</span></div>
<div class="lb" style="left:290.3px;top:535.0px">重庆市<span class="n">(1289)</span></div>
<div class="lb" style="left:415.4px;top:545.0px">福建省<span class="n">(2065)</span></div>
<div class="lb" style="left:299.0px;top:559.0px">贵州省<span class="n">(946)</span></div>
<div class="lb" style="left:382.6px;top:554.7px">江西省<span class="n">(1287)</span></div>
<div class="lb" style="left:344.5px;top:567.0px">湖南省<span class="n">(1791)</span></div>
<div class="lb" style="left:134.9px;top:507.0px">西藏自治区<span class="n">(29)</span></div>
<div class="lb" style="left:277.0px;top:596.5px">广西壮族自治区<span class="n">(1003)</span></div>
<div class="lb" style="left:229.7px;top:611.0px">云南省<span class="n">(791)</span></div>
<div class="lb" style="left:389.6px;top:603.0px">广东省<span class="n">(9603)</span></div>
<div class="lb" style="left:391.5px;top:623.0px">香港<span class="n">(2)</span></div>
<div class="lb" style="left:349.7px;top:669.0px">海南省<span class="n">(1157)</span></div>
<div class="ct" style="left:724.5px">充电站</div>
<div class="ct lat sx" style="left:781px">TOP10</div>
<div class="ct" style="left:830.5px">省份</div>
<div class="ct lat" style="left:870.5px">(</div>
<div class="ct" style="left:877.5px">单位</div>
<div class="ct lat" style="left:918px">:</div>
<div class="ct" style="left:924px">座</div>
<div class="ct lat" style="left:943.5px">)</div>
<div class="tk" style="left:641.5px;top:249.9px;width:5px;height:1.8px"></div>
<div class="tk" style="left:641.5px;top:293.4px;width:5px;height:1.8px"></div>
<div class="tk" style="left:641.5px;top:336.9px;width:5px;height:1.8px"></div>
<div class="tk" style="left:641.5px;top:380.5px;width:5px;height:1.8px"></div>
<div class="tk" style="left:641.5px;top:424.0px;width:5px;height:1.8px"></div>
<div class="tk" style="left:641.5px;top:467.5px;width:5px;height:1.8px"></div>
<div class="tk" style="left:641.5px;top:511.0px;width:5px;height:1.8px"></div>
<div class="tk" style="left:641.5px;top:554.5px;width:5px;height:1.8px"></div>
<div class="tk" style="left:641.5px;top:598.1px;width:5px;height:1.8px"></div>
<div class="tk" style="left:641.5px;top:641.6px;width:5px;height:1.8px"></div>
<div class="tk" style="left:641.5px;top:685.1px;width:5px;height:1.8px"></div>
<div class="ax" style="left:606.2px;top:228px">0</div>
<div class="ax" style="left:703.1px;top:228px">3000</div>
<div class="grid" style="left:742.4px"></div>
<div class="tk" style="left:742.4px;top:246.5px;width:1.4px;height:5px"></div>
<div class="ax" style="left:799.9px;top:228px">6000</div>
<div class="grid" style="left:839.2px"></div>
<div class="tk" style="left:839.2px;top:246.5px;width:1.4px;height:5px"></div>
<div class="ax" style="left:896.8px;top:228px">9000</div>
<div class="grid" style="left:936.1px"></div>
<div class="tk" style="left:936.1px;top:246.5px;width:1.4px;height:5px"></div>
<div class="ax" style="left:993.7px;top:228px">12000</div>
<div class="grid" style="left:1033.0px"></div>
<div class="tk" style="left:1033.0px;top:246.5px;width:1.4px;height:5px"></div>
<div id="xax"></div><div id="yax"></div>
<div class="bar" style="left:646.2px;top:263.8px;width:310.1px;height:17.5px"></div>
<div class="cat" style="left:585px;top:263.6px">广东省</div>
<div class="val" style="left:965.3px;top:265.2px">9603</div>
<div class="bar" style="left:646.2px;top:307.3px;width:193.7px;height:17.5px"></div>
<div class="cat" style="left:585px;top:307.1px">江苏省</div>
<div class="val" style="left:848.9px;top:308.8px">5998</div>
<div class="bar" style="left:646.2px;top:350.8px;width:171.4px;height:17.5px"></div>
<div class="cat" style="left:585px;top:350.6px">浙江省</div>
<div class="val" style="left:826.6px;top:352.3px">5309</div>
<div class="bar" style="left:646.2px;top:394.4px;width:170.4px;height:17.5px"></div>
<div class="cat" style="left:585px;top:394.1px">上海市</div>
<div class="val" style="left:825.6px;top:395.8px">5278</div>
<div class="bar" style="left:646.2px;top:437.9px;width:167.8px;height:17.5px"></div>
<div class="cat" style="left:585px;top:437.6px">北京市</div>
<div class="val" style="left:823.0px;top:439.3px">5196</div>
<div class="bar" style="left:646.2px;top:481.4px;width:147.3px;height:17.5px"></div>
<div class="cat" style="left:585px;top:481.2px">山东省</div>
<div class="val" style="left:802.5px;top:482.9px">4563</div>
<div class="bar" style="left:646.2px;top:524.9px;width:94.9px;height:17.5px"></div>
<div class="cat" style="left:585px;top:524.7px">河北省</div>
<div class="val" style="left:750.1px;top:526.4px">2938</div>
<div class="bar" style="left:646.2px;top:568.4px;width:79.1px;height:17.5px"></div>
<div class="cat" style="left:585px;top:568.2px">天津市</div>
<div class="val" style="left:734.3px;top:569.9px">2450</div>
<div class="bar" style="left:646.2px;top:612.0px;width:72.7px;height:17.5px"></div>
<div class="cat" style="left:585px;top:611.7px">四川省</div>
<div class="val" style="left:727.9px;top:613.4px">2253</div>
<div class="bar" style="left:646.2px;top:655.5px;width:68.2px;height:17.5px"></div>
<div class="cat" style="left:585px;top:655.2px">湖北省</div>
<div class="val" style="left:723.4px;top:656.9px">2113</div>
</div></body></html>
